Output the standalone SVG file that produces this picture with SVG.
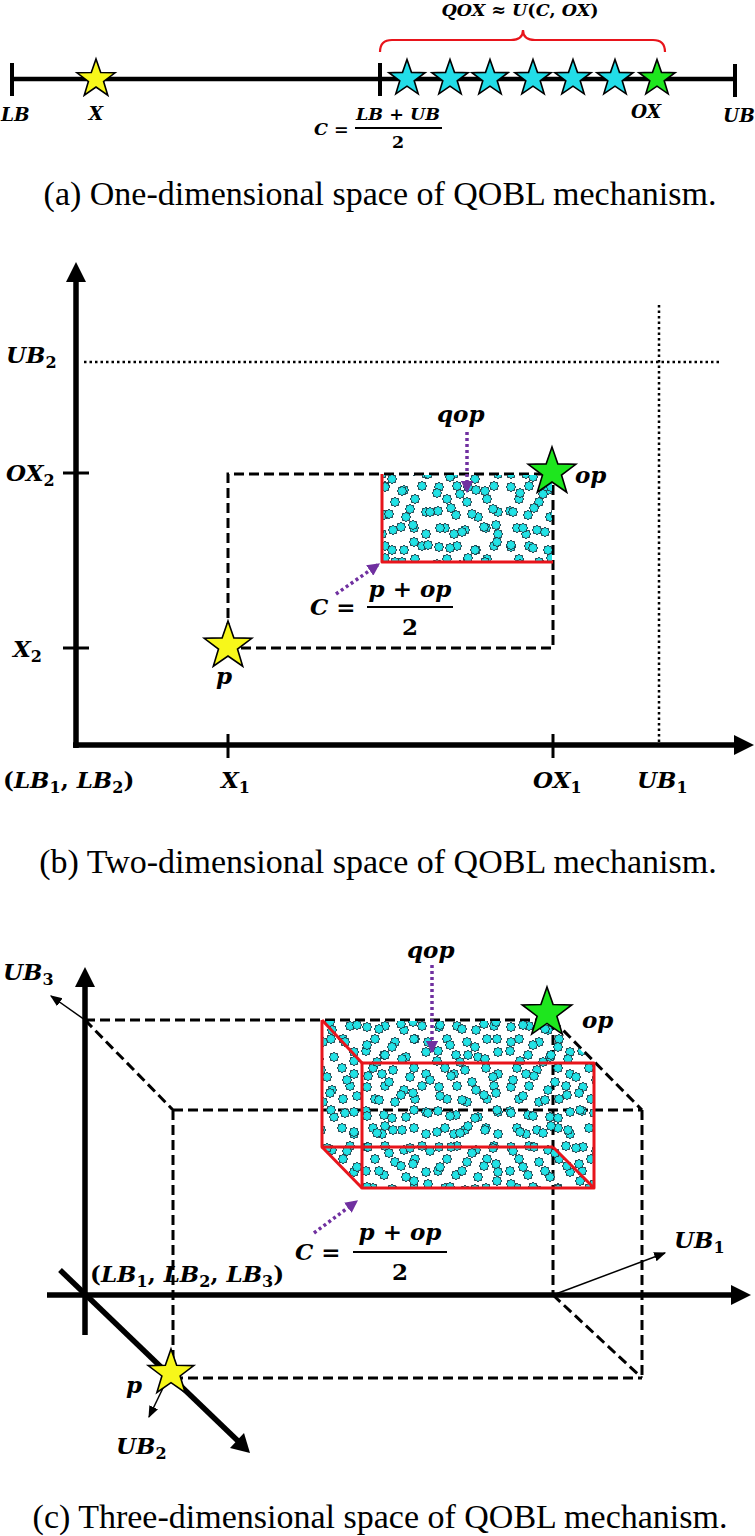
<svg xmlns="http://www.w3.org/2000/svg" width="755" height="1536" viewBox="0 0 755 1536">
<style>
.cap{font-family:"Liberation Serif","Times New Roman",serif;font-size:34px;fill:#000}
.m{font-family:"DejaVu Serif","Liberation Serif",serif;font-weight:bold;font-style:italic;fill:#000}
.u{font-style:normal}
.ma{font-size:18.5px}
.mb{font-size:23px}
.dash{fill:none;stroke:#000;stroke-width:3;stroke-dasharray:10 5}
.dot{fill:none;stroke:#000;stroke-width:2.5;stroke-dasharray:2.5 3}
.axis{fill:none;stroke:#000;stroke-width:5.5}
.tick{fill:none;stroke:#000;stroke-width:3}
.red{fill:none;stroke:#E8141B;stroke-width:3;stroke-linejoin:round}
.pur{fill:none;stroke:#7030A0;stroke-width:3.5;stroke-dasharray:3 3}
.thin{fill:none;stroke:#000;stroke-width:1.5}
.bar{stroke:#000;stroke-width:2}
.yel{fill:#F7F71A}
.cyn{fill:#22DDE8}
.grn{fill:#1EE61E}
</style>
<defs>
<path id="s5" vector-effect="non-scaling-stroke" stroke="#000" stroke-width="1.6" d="M0,-1 L0.235,-0.324 L0.951,-0.309 L0.380,0.124 L0.588,0.809 L0,0.4 L-0.588,0.809 L-0.380,0.124 L-0.951,-0.309 L-0.235,-0.324 Z"/>
<path id="s8" fill="#22E3E6" stroke="#1A3F4A" stroke-width="1" d="M5,0 L3.37,1.4 L3.54,3.54 L1.4,3.37 L0,5 L-1.4,3.37 L-3.54,3.54 L-3.37,1.4 L-5,0 L-3.37,-1.4 L-3.54,-3.54 L-1.4,-3.37 L0,-5 L1.4,-3.37 L3.54,-3.54 L3.37,-1.4 Z"/>
<pattern id="starsA" patternUnits="userSpaceOnUse" width="72" height="60">
<use href="#s8" x="7" y="7"/><use href="#s8" x="25" y="6"/><use href="#s8" x="44" y="10"/><use href="#s8" x="62" y="6"/>
<use href="#s8" x="15" y="19"/><use href="#s8" x="35" y="22"/><use href="#s8" x="55" y="19"/><use href="#s8" x="66" y="32"/>
<use href="#s8" x="6" y="31"/><use href="#s8" x="24" y="35"/><use href="#s8" x="46" y="37"/><use href="#s8" x="13" y="48"/>
<use href="#s8" x="33" y="50"/><use href="#s8" x="54" y="48"/><use href="#s8" x="66" y="54"/><use href="#s8" x="22" y="54"/>
</pattern>
<pattern id="starsB" patternUnits="userSpaceOnUse" x="5" y="3" width="83" height="71">
<use href="#s8" x="10" y="12"/><use href="#s8" x="31" y="8"/><use href="#s8" x="52" y="14"/><use href="#s8" x="73" y="9"/>
<use href="#s8" x="20" y="28"/><use href="#s8" x="42" y="32"/><use href="#s8" x="64" y="27"/><use href="#s8" x="77" y="42"/>
<use href="#s8" x="8" y="45"/><use href="#s8" x="30" y="48"/><use href="#s8" x="55" y="50"/><use href="#s8" x="17" y="64"/>
<use href="#s8" x="40" y="65"/><use href="#s8" x="65" y="62"/><use href="#s8" x="76" y="25"/><use href="#s8" x="48" y="58"/>
</pattern>
<marker id="ahP" viewBox="0 0 10 10" refX="9" refY="5" markerWidth="3.6" markerHeight="3.6" orient="auto" markerUnits="strokeWidth"><path d="M0,0 L10,5 L0,10 z" fill="#7030A0"/></marker>
<marker id="ahT" viewBox="0 0 10 10" refX="9" refY="5" markerWidth="8" markerHeight="8" orient="auto" markerUnits="strokeWidth"><path d="M0,1 L10,5 L0,9 z" fill="#000"/></marker>
</defs>
<rect width="755" height="1536" fill="#fff"/>

<!-- ===== (a) ===== -->
<g id="a-connectors">
<line x1="12" y1="79" x2="735" y2="79" stroke="#000" stroke-width="4.5"/>
<line x1="12" y1="63" x2="12" y2="96" stroke="#000" stroke-width="4"/>
<line x1="380" y1="63" x2="380" y2="96" stroke="#000" stroke-width="4"/>
<line x1="735" y1="64" x2="735" y2="97" stroke="#000" stroke-width="4"/>
<path d="M380,52 Q380,40 392,40 L511,40 Q523,40 523,30 Q523,40 535,40 L653,40 Q665,40 665,52" fill="none" stroke="#E8141B" stroke-width="2.2"/>
</g>
<g id="a-star-x"><use href="#s5" class="yel" transform="translate(96,79) scale(20)"/></g>
<g id="a-stars-qox">
<use href="#s5" class="cyn" transform="translate(407,78.5) scale(19)"/>
<use href="#s5" class="cyn" transform="translate(450,78.5) scale(19)"/>
<use href="#s5" class="cyn" transform="translate(490,78.5) scale(19)"/>
<use href="#s5" class="cyn" transform="translate(533,78.5) scale(19)"/>
<use href="#s5" class="cyn" transform="translate(573,78.5) scale(19)"/>
<use href="#s5" class="cyn" transform="translate(615,78.5) scale(19)"/>
</g>
<g id="a-star-ox"><use href="#s5" class="grn" transform="translate(657,78.5) scale(19)"/></g>
<g id="a-labels">
<text class="m ma" x="1" y="121">LB</text>
<text class="m ma" x="96" y="120" text-anchor="middle">X</text>
<text class="m ma" x="646" y="118" text-anchor="middle">OX</text>
<text class="m ma" x="739" y="122" text-anchor="middle">UB</text>
<text class="m" font-size="17.5" x="520" y="16" text-anchor="middle">QOX <tspan class="u">≈</tspan> U<tspan class="u">(</tspan>C<tspan class="u">,</tspan> OX<tspan class="u">)</tspan></text>
<text class="m" font-size="17.5" x="314" y="135">C <tspan class="u">=</tspan></text>
<text class="m" font-size="17.5" x="398" y="120" text-anchor="middle">LB <tspan class="u">+</tspan> UB</text>
<line class="bar" x1="355" y1="128" x2="442" y2="128" stroke-width="1.6"/>
<text class="m u" font-size="17.5" x="398" y="148" text-anchor="middle">2</text>
</g>
<text class="cap" x="380" y="205" text-anchor="middle">(a) One-dimensional space of QOBL mechanism.</text>

<!-- ===== (b) ===== -->
<g id="b-connectors">
<line class="axis" x1="76" y1="748" x2="76" y2="279"/>
<polygon points="76,262 66,282 86,282"/>
<line class="axis" x1="73" y1="745" x2="737" y2="745"/>
<polygon points="754,745 734,735 734,755"/>
<line class="tick" x1="63" y1="473" x2="89" y2="473"/>
<line class="tick" x1="63" y1="648" x2="89" y2="648"/>
<line class="tick" x1="228" y1="734" x2="228" y2="758"/>
<line class="tick" x1="553" y1="734" x2="553" y2="758"/>
<line class="dot" x1="84" y1="362" x2="720" y2="362"/>
<line class="dot" x1="659" y1="305" x2="659" y2="743"/>
<path class="dash" d="M228,648 L228,474 L553,474 L553,648 Z"/>
</g>
<g id="b-qop-region">
<rect x="383" y="475" width="169" height="86" fill="url(#starsA)"/>
<rect x="383" y="475" width="169" height="86" fill="url(#starsB)"/>
<polyline class="red" points="382,474 382,562 553,562"/>
</g>
<g id="b-arrows">
<line class="pur" x1="467" y1="432" x2="467" y2="492" marker-end="url(#ahP)"/>
<line class="pur" x1="336" y1="594" x2="379" y2="564" marker-end="url(#ahP)"/>
</g>
<g id="b-star-op"><use href="#s5" class="grn" transform="translate(552,472) scale(25)"/></g>
<g id="b-star-p"><use href="#s5" class="yel" transform="translate(228,646) scale(25)"/></g>
<g id="b-labels">
<text class="m mb" x="6" y="363">UB<tspan class="u" font-size="16" dy="5">2</tspan></text>
<text class="m mb" x="6" y="481">OX<tspan class="u" font-size="16" dy="5">2</tspan></text>
<text class="m mb" x="13" y="657">X<tspan class="u" font-size="16" dy="5">2</tspan></text>
<text class="m mb" x="3" y="788"><tspan class="u">(</tspan>LB<tspan class="u" font-size="16" dy="5">1</tspan><tspan class="u" dy="-5">, </tspan>LB<tspan class="u" font-size="16" dy="5">2</tspan><tspan class="u" dy="-5">)</tspan></text>
<text class="m mb" x="221" y="788">X<tspan class="u" font-size="16" dy="5">1</tspan></text>
<text class="m mb" x="533" y="788">OX<tspan class="u" font-size="16" dy="5">1</tspan></text>
<text class="m mb" x="637" y="788">UB<tspan class="u" font-size="16" dy="5">1</tspan></text>
<text class="m mb" x="216" y="684">p</text>
<text class="m mb" x="437" y="422">qop</text>
<text class="m mb" x="575" y="483">op</text>
<text class="m mb" x="310" y="615">C <tspan class="u">=</tspan></text>
<text class="m mb" x="410" y="597" text-anchor="middle">p <tspan class="u">+</tspan> op</text>
<line class="bar" x1="367" y1="607" x2="453" y2="607"/>
<text class="m mb u" x="410" y="635" text-anchor="middle">2</text>
</g>
<text class="cap" x="378" y="873" text-anchor="middle">(b) Two-dimensional space of QOBL mechanism.</text>

<!-- ===== (c) ===== -->
<g id="c-connectors">
<path class="dash" d="M85,1020 L553,1020 M85,1020 L173,1110 M173,1110 L642,1110 M553,1020 L642,1110 M642,1110 L642,1378 M173,1110 L173,1373 M173,1378 L642,1378 M553,1020 L553,1295 M553,1295 L642,1378"/>
<line class="axis" x1="85" y1="1335" x2="85" y2="985"/>
<polygon points="85,967 75,987 95,987"/>
<line class="axis" x1="47" y1="1295" x2="733" y2="1295"/>
<polygon points="751,1295 731,1285 731,1305"/>
<line class="axis" x1="60" y1="1270" x2="238" y2="1441"/>
<polygon points="250,1453 230,1448 244,1433"/>
<line class="thin" x1="85" y1="1020" x2="51" y2="996" marker-end="url(#ahT)"/>
<line class="thin" x1="553" y1="1295" x2="665" y2="1253" marker-end="url(#ahT)"/>
<line class="thin" x1="163" y1="1388" x2="149" y2="1417" marker-end="url(#ahT)"/>
</g>
<g id="c-qop-region">
<polygon points="323,1021 553,1021 593,1063 593,1187 362,1187 323,1147" fill="url(#starsA)"/>
<polygon points="323,1021 553,1021 593,1063 593,1187 362,1187 323,1147" fill="url(#starsB)"/>
<polyline class="red" points="322,1020 322,1147 553,1147"/>
<line class="red" x1="322" y1="1020" x2="362" y2="1063"/>
<line class="red" x1="322" y1="1147" x2="362" y2="1188"/>
<line class="red" x1="553" y1="1147" x2="594" y2="1188"/>
<rect class="red" x="362" y="1063" width="232" height="125"/>
</g>
<g id="c-arrows">
<line class="pur" x1="432" y1="965" x2="432" y2="1052" marker-end="url(#ahP)"/>
<line class="pur" x1="314" y1="1233" x2="357" y2="1201" marker-end="url(#ahP)"/>
</g>
<g id="c-star-op"><use href="#s5" class="grn" transform="translate(547,1013) scale(26)"/></g>
<g id="c-star-p"><use href="#s5" class="yel" transform="translate(171,1373) scale(24)"/></g>
<g id="c-labels">
<text class="m mb" x="3" y="980">UB<tspan class="u" font-size="16" dy="5">3</tspan></text>
<text class="m mb" x="407" y="958">qop</text>
<text class="m mb" x="582" y="1028">op</text>
<text class="m mb" x="90" y="1282"><tspan class="u">(</tspan>LB<tspan class="u" font-size="16" dy="5">1</tspan><tspan class="u" dy="-5">, </tspan>LB<tspan class="u" font-size="16" dy="5">2</tspan><tspan class="u" dy="-5">, </tspan>LB<tspan class="u" font-size="16" dy="5">3</tspan><tspan class="u" dy="-5">)</tspan></text>
<text class="m mb" x="674" y="1248">UB<tspan class="u" font-size="16" dy="5">1</tspan></text>
<text class="m mb" x="295" y="1260">C <tspan class="u">=</tspan></text>
<text class="m mb" x="400" y="1240" text-anchor="middle">p <tspan class="u">+</tspan> op</text>
<line class="bar" x1="353" y1="1252" x2="447" y2="1252"/>
<text class="m mb u" x="400" y="1280" text-anchor="middle">2</text>
<text class="m mb" x="126" y="1393">p</text>
<text class="m mb" x="116" y="1454">UB<tspan class="u" font-size="16" dy="5">2</tspan></text>
</g>
<text class="cap" x="380" y="1528" text-anchor="middle">(c) Three-dimensional space of QOBL mechanism.</text>
</svg>
